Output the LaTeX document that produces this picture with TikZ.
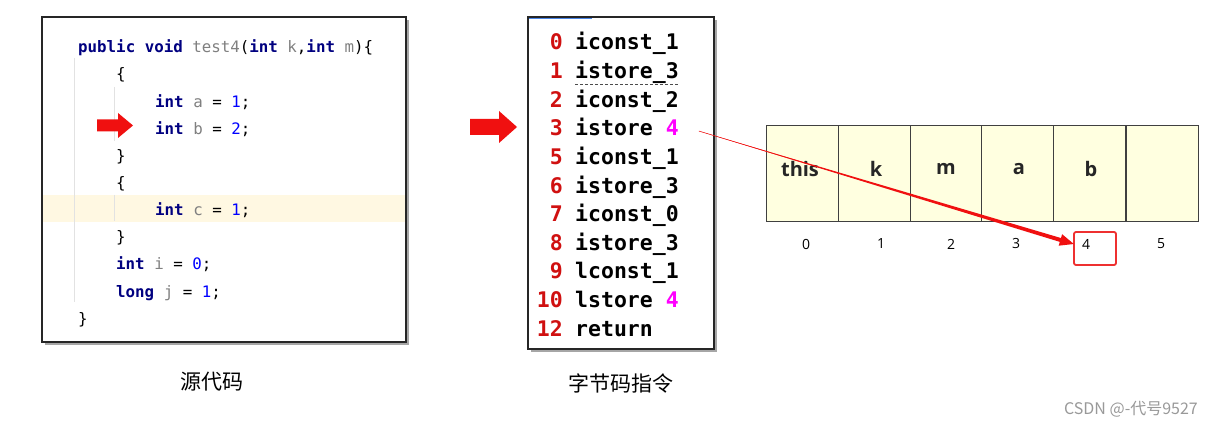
\documentclass[tikz,border=0pt]{standalone}
\usepackage{fontspec}
\setmainfont{Open Sans}
\newfontfamily\codefont{DejaVu Sans Mono}
\newfontfamily\cjk{Noto Sans CJK SC}
\usetikzlibrary{calc}
\definecolor{kwc}{HTML}{000080}
\definecolor{varc}{HTML}{808080}
\definecolor{numc}{HTML}{0000FF}
\definecolor{bcnum}{HTML}{D01010}
\definecolor{magc}{HTML}{FF00FF}
\definecolor{hlc}{HTML}{FFF8E2}
\definecolor{guide}{HTML}{E2E2E2}
\definecolor{cellbg}{HTML}{FFFFE0}
\definecolor{arrred}{HTML}{F01010}
\definecolor{boxred}{HTML}{EE3030}
\definecolor{barblue}{HTML}{4A86E8}
\newcommand{\kw}[1]{\textcolor{kwc}{\bfseries #1}}
\newcommand{\vr}[1]{\textcolor{varc}{#1}}
\newcommand{\nm}[1]{\textcolor{numc}{#1}}
\tikzset{
  codeline/.style={anchor=mid west, inner sep=0pt, font=\codefont\fontsize{15.8}{18}\selectfont},
  bcnum/.style={anchor=mid east, inner sep=0pt, text=bcnum, font=\codefont\bfseries\fontsize{21.5}{24}\selectfont},
  bcins/.style={anchor=mid west, inner sep=0pt, font=\codefont\bfseries\fontsize{21.5}{24}\selectfont},
  panel/.style={draw=black!85, line width=1.4pt, fill=white},
  shadowbox/.style={fill=black!35},
  cell/.style={draw=black!75, fill=cellbg, line width=1pt, minimum width=72pt, minimum height=96pt, inner sep=0pt},
  celltxt/.style={font=\bfseries\fontsize{20}{23}\selectfont, text=black!85, inner sep=0pt},
  idx/.style={font=\fontsize{14}{16}\selectfont, inner sep=0pt},
  caption/.style={font=\cjk\fontsize{21}{25}\selectfont, inner sep=0pt},
  blockarrow/.style={fill=arrred}
}
\frenchspacing
\begin{document}
\begin{tikzpicture}[x=1pt,y=-1pt]
\useasboundingbox (0,0) rectangle (1218,427);
\fill[white] (0,0) rectangle (1218,427);

% ---------------- source code panel
\fill[shadowbox] (45,20) rectangle (409,345);
\draw[panel] (42,17) rectangle (406,342);
\fill[hlc] (43,195) rectangle (405,222);
\draw[guide, line width=1pt] (74,58) -- (74,302);
\draw[guide, line width=1pt] (114,87) -- (114,141);
\draw[guide, line width=1pt] (114,195) -- (114,221);

\node[codeline] (l1) at (78,50) {\kw{public} \kw{void} \vr{test4}(\kw{int} \vr{k},\kw{int} \vr{m})\{};
\node[codeline] (l2) at (116,77) {\{};
\node[codeline] (l3) at (155,105) {\kw{int} \vr{a} = \nm{1};};
\node[codeline] (l4) at (155,132) {\kw{int} \vr{b} = \nm{2};};
\node[codeline] (l5) at (116,159) {\}};
\node[codeline] (l6) at (116,186) {\{};
\node[codeline] (l7) at (155,213) {\kw{int} \vr{c} = \nm{1};};
\node[codeline] (l8) at (116,240) {\}};
\node[codeline] (l9) at (116,267) {\kw{int} \vr{i} = \nm{0};};
\node[codeline] (l10) at (116,295) {\kw{long} \vr{j} = \nm{1};};
\node[codeline] (l11) at (78,322) {\}};

% small red block arrow
\fill[blockarrow] (97,119.5) -- (118,119.5) -- (118,113) -- (133,125.5) -- (118,138) -- (118,131.5) -- (97,131.5) -- cycle;

% big red block arrow
\fill[blockarrow] (470,119) -- (499,119) -- (499,111) -- (517,127) -- (499,143) -- (499,135) -- (470,135) -- cycle;

% ---------------- bytecode panel
\fill[shadowbox] (531,20) rectangle (717,352);
\draw[panel] (528,17) rectangle (714,349);
\draw[barblue, line width=1.5pt] (529,18.5) -- (592,18.5);

\foreach \n/\t/\y [count=\k] in {0/iconst\_1/47, 1/istore\_3/76, 2/iconst\_2/105, 5/iconst\_1/162, 6/istore\_3/191, 7/iconst\_0/219, 8/istore\_3/248, 9/lconst\_1/276, 12/return/334}{
  \node[bcnum] (bn\k) at (563,\y) {\n};
  \node[bcins] (bi\k) at (575,\y) {\t};
}
\node[bcnum] (bnA) at (563,133) {3};
\node[bcins] (biA) at (575,133) {istore \textcolor{magc}{4}};
\node[bcnum] (bnB) at (563,305) {10};
\node[bcins] (biB) at (575,305) {lstore \textcolor{magc}{4}};
\draw[black!70, line width=0.8pt, dash pattern=on 3pt off 2pt] (575,84) -- (678,84);

% ---------------- local variable table
\node[cell] (c0) at (802,173.5) {};
\node[cell] (c1) at (874,173.5) {};
\node[cell] (c2) at (946,173.5) {};
\node[cell] (c3) at (1017.5,173.5) {};
\node[cell] (c4) at (1089.5,174) {};
\node[cell] (c5) at (1162,174) {};
\node[celltxt] (t0) at (800,169) {this};
\node[celltxt] (t1) at (876,169) {k};
\node[celltxt] (t2) at (946,169) {m};
\node[celltxt] (t3) at (1019,169) {a};
\node[celltxt] (t4) at (1091,169) {b};

\node[idx] (i0) at (806,244) {0};
\node[idx] (i1) at (881,244) {1};
\node[idx] (i2) at (951,244) {2};
\node[idx] (i3) at (1016,244) {3};
\node[idx] (i4) at (1086,244) {4};
\node[idx] (i5) at (1161,244) {5};
\draw[boxred, line width=1.8pt, rounded corners=2pt] (1074,232) rectangle (1116,265);

% tapered red connector from bytecode slot 4 to index 4
\coordinate (s) at ($(biA.east)+(20,4)$);
\coordinate (e) at ($(i4.west)+(-8,0)$);
\draw[arrred, line width=0.5pt] (s) -- ($(e)!14pt!(s)$);
\fill[arrred] (s) -- ($(e)!14pt!(s)!2pt!90:(s)$) -- ($(e)!14pt!(s)!6pt!90:(s)$) -- (e)
   -- ($(e)!14pt!(s)!6pt!-90:(s)$) -- ($(e)!14pt!(s)!2pt!-90:(s)$) -- cycle;

% ---------------- captions
\node[caption] (cap1) at (212,382) {源代码};
\node[caption] (cap2) at (621,383) {字节码指令};
\node[font=\cjk\fontsize{16}{18}\selectfont, text=black!40, inner sep=0pt] (wm) at (1131,409) {CSDN @-代号9527};
\end{tikzpicture}
\end{document}
